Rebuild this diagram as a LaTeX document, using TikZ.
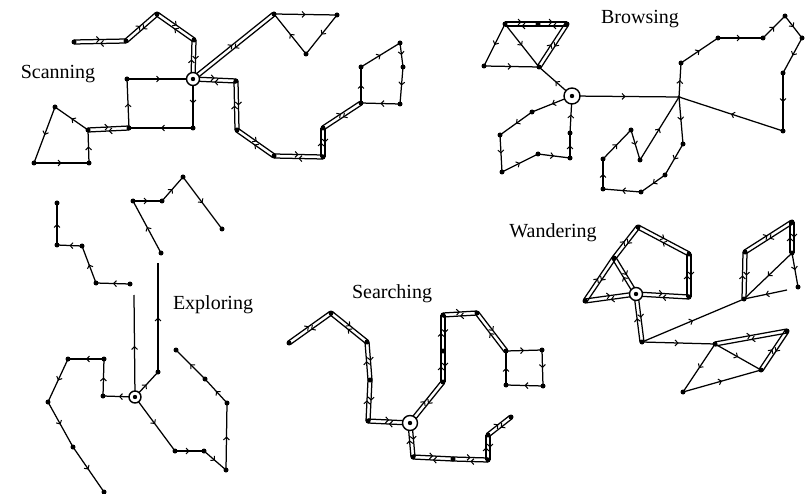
\documentclass[tikz,border=0pt]{standalone}
\usepackage{fontspec}
\setmainfont{Liberation Serif}
\usetikzlibrary{calc,arrows.meta,decorations.markings,backgrounds}
\tikzset{
  dot/.style={circle,fill=black,inner sep=0pt,minimum size=5pt},
  hub/.style={circle,draw=black,line width=1.4pt,fill=white,inner sep=0pt,minimum size=#1,
    path picture={\fill[black] (path picture bounding box.center) circle (2.2pt);}},
  hub/.default=13pt,
  sg/.style={line width=1.25pt,postaction={decorate},
    decoration={markings,mark=at position 0.5 with {\arrow{Straight Barb[length=2.8pt,width=6pt,line width=1pt]}}}},
  lbl/.style={font=\fontsize{20}{23}\selectfont,inner sep=0pt}
}
\newcommand\dbl[2]{%
  \draw[sg] ($(#1.center)!2pt!90:(#2.center)$) -- ($(#2.center)!2pt!-90:(#1.center)$);
  \draw[sg] ($(#2.center)!2pt!90:(#1.center)$) -- ($(#1.center)!2pt!-90:(#2.center)$);}
\newcommand\sgl[2]{\draw[sg] (#1.center) -- (#2.center);}
\begin{document}
\begin{tikzpicture}[x=1pt,y=-1pt]
\useasboundingbox (0,0) rectangle (805,494);
% ---------------- Scanning
\node[lbl] (tscan) at (58,74) {Scanning};
\foreach \n/\x/\y in {a1/74/42,a2/126/41,a3/157/14,a4/194/40,b1/274/14,b2/337/15,b3/306/54,
  c1/236/81,c2/237/130,c3/274/156,c4/323/157,c5/323/128,c6/361/103,c7/361/67,c8/400/43,c9/403/67,c10/400/104,
  d1/127/79,d2/129/128,d3/193/128,e1/88/130,e2/55/107,e3/34/163,e4/89/163}
  {\node[dot] (\n) at (\x,\y) {};}
\node[hub] (hs) at (193,79) {};
% ---------------- Browsing
\node[lbl] (tbrow) at (640,19) {Browsing};
\foreach \n/\x/\y in {f1/505/24,f2/538/24,f3/567/24,f4/484/66,f5/539/67,
  g2/681/63,g3/718/38,g4/763/38,g5/785/16,g6/802/38,g7/783/73,g8/783/131,g9/683/144,g10/665/175,
  g11/641/192,g12/603/189,g13/603/159,g14/631/130,g15/640/160,
  h1/570/158,h2/570/133,h3/538/154,h4/502/172,h5/500/135,h6/532/112}
  {\node[dot] (\n) at (\x,\y) {};}
\node[dot,minimum size=3.4pt] (g1) at (679,97) {};
\node[hub=16pt] (hb) at (572,96) {};
% ---------------- Exploring
\node[lbl] (texp) at (213,305) {Exploring};
\foreach \n/\x/\y in {i1/57/203,i2/57/245,i3/82/246,i4/96/283,i5/130/284,
  j1/158/372,j2/161/253,j3/133/201,j4/162/201,j5/183/177,j6/222/229,
  k1/103/396,k2/104/359,k3/68/359,k4/48/402,k5/73/447,k6/104/492,
  l1/175/451,l2/204/451,l3/226/470,l4/227/403,l5/205/379,l6/176/350}
  {\node[dot] (\n) at (\x,\y) {};}
\coordinate (ie) at (134,295);
\coordinate (jt) at (158,263);
\node[hub=12pt] (he) at (135,397) {};
% ---------------- Searching
\node[lbl] (tsea) at (392,294) {Searching};
\foreach \n/\x/\y in {s1/289/343,s2/331/313,s3/367/342,s4/370/380,s5/368/421,
  s6/413/457,s7/453/459,s8/488/460,s9/488/435,s10/511/417,
  s11/443/382,s12/443/351,s13/443/315,s14/477/313,s15/506/351,s16/542/350,s17/543/386,s18/506/385}
  {\node[dot] (\n) at (\x,\y) {};}
\node[hub=15pt] (hsr) at (410,423) {};
% ---------------- Wandering
\node[lbl] (twan) at (553,233) {Wandering};
\foreach \n/\x/\y in {w1/585/301,w2/614/258,w3/638/227,w4/689/254,w5/689/297,
  w6/642/342,w7/715/344,w8/744/299,w9/745/252,w10/792/222,w11/792/253,w12/798/287,
  w14/787/331,w15/761/370,w16/683/392}
  {\node[dot] (\n) at (\x,\y) {};}
\coordinate (wf) at (787,290);
\node[hub=13pt] (hw) at (636,294) {};
% ---------------- connectors
\begin{scope}[on background layer]
\fill[white] (0,0) rectangle (805,494);
% Scanning
\dbl{a1}{a2}\dbl{a2}{a3}\dbl{a3}{a4}\dbl{a4}{hs}\dbl{hs}{b1}\dbl{hs}{c1}\dbl{c1}{c2}
\dbl{c2}{c3}\dbl{c3}{c4}\dbl{c4}{c5}\dbl{c5}{c6}\dbl{d2}{e1}
\sgl{b1}{b2}\sgl{b2}{b3}\sgl{b3}{b1}\sgl{c6}{c7}\sgl{c7}{c8}\sgl{c8}{c9}\sgl{c9}{c10}\sgl{c10}{c6}
\sgl{d1}{hs}\sgl{hs}{d3}\sgl{d3}{d2}\sgl{d2}{d1}\sgl{e1}{e2}\sgl{e2}{e3}\sgl{e3}{e4}\sgl{e4}{e1}
% Browsing
\dbl{f1}{f2}\dbl{f2}{f3}\dbl{f3}{f5}
\sgl{f1}{f5}\sgl{f1}{f4}\sgl{f4}{f5}\sgl{hb}{f5}\sgl{hb}{g1}\sgl{g1}{g2}\sgl{g2}{g3}\sgl{g3}{g4}
\sgl{g4}{g5}\sgl{g5}{g6}\sgl{g6}{g7}\sgl{g7}{g8}\sgl{g8}{g1}\sgl{g1}{g9}\sgl{g9}{g10}\sgl{g10}{g11}
\sgl{g11}{g12}\sgl{g12}{g13}\sgl{g13}{g14}\sgl{g14}{g15}\sgl{g15}{g1}
\sgl{hb}{h6}\sgl{h6}{h5}\sgl{h5}{h4}\sgl{h4}{h3}\sgl{h3}{h1}\sgl{h1}{h2}\sgl{h2}{hb}
% Exploring
\sgl{he}{ie}\sgl{i5}{i4}\sgl{i4}{i3}\sgl{i3}{i2}\sgl{i2}{i1}
\sgl{he}{j1}\sgl{j1}{jt}\sgl{j2}{j3}\sgl{j3}{j4}\sgl{j4}{j5}\sgl{j5}{j6}
\sgl{he}{k1}\sgl{k1}{k2}\sgl{k2}{k3}\sgl{k3}{k4}\sgl{k4}{k5}\sgl{k5}{k6}
\sgl{he}{l1}\sgl{l1}{l2}\sgl{l2}{l3}\sgl{l3}{l4}\sgl{l4}{l5}\sgl{l5}{l6}
% Searching
\dbl{s1}{s2}\dbl{s2}{s3}\dbl{s3}{s4}\dbl{s4}{s5}\dbl{s5}{hsr}\dbl{hsr}{s11}\dbl{s11}{s12}
\dbl{s12}{s13}\dbl{s13}{s14}\dbl{s14}{s15}\dbl{hsr}{s6}\dbl{s6}{s7}\dbl{s7}{s8}\dbl{s8}{s9}\dbl{s9}{s10}
\sgl{s15}{s16}\sgl{s16}{s17}\sgl{s17}{s18}\sgl{s18}{s15}
% Wandering
\dbl{w1}{w2}\dbl{w2}{w3}\dbl{w3}{w4}\dbl{w4}{w5}\dbl{w5}{hw}\dbl{hw}{w1}\dbl{w2}{hw}\dbl{hw}{w6}
\dbl{w8}{w9}\dbl{w9}{w10}\dbl{w10}{w11}\dbl{w7}{w14}\dbl{w14}{w15}
\sgl{w6}{w8}\sgl{w6}{w7}\sgl{w11}{w8}\sgl{w11}{w12}\sgl{wf}{w8}\sgl{w7}{w15}\sgl{w7}{w16}\sgl{w16}{w15}
\end{scope}
\end{tikzpicture}
\end{document}
